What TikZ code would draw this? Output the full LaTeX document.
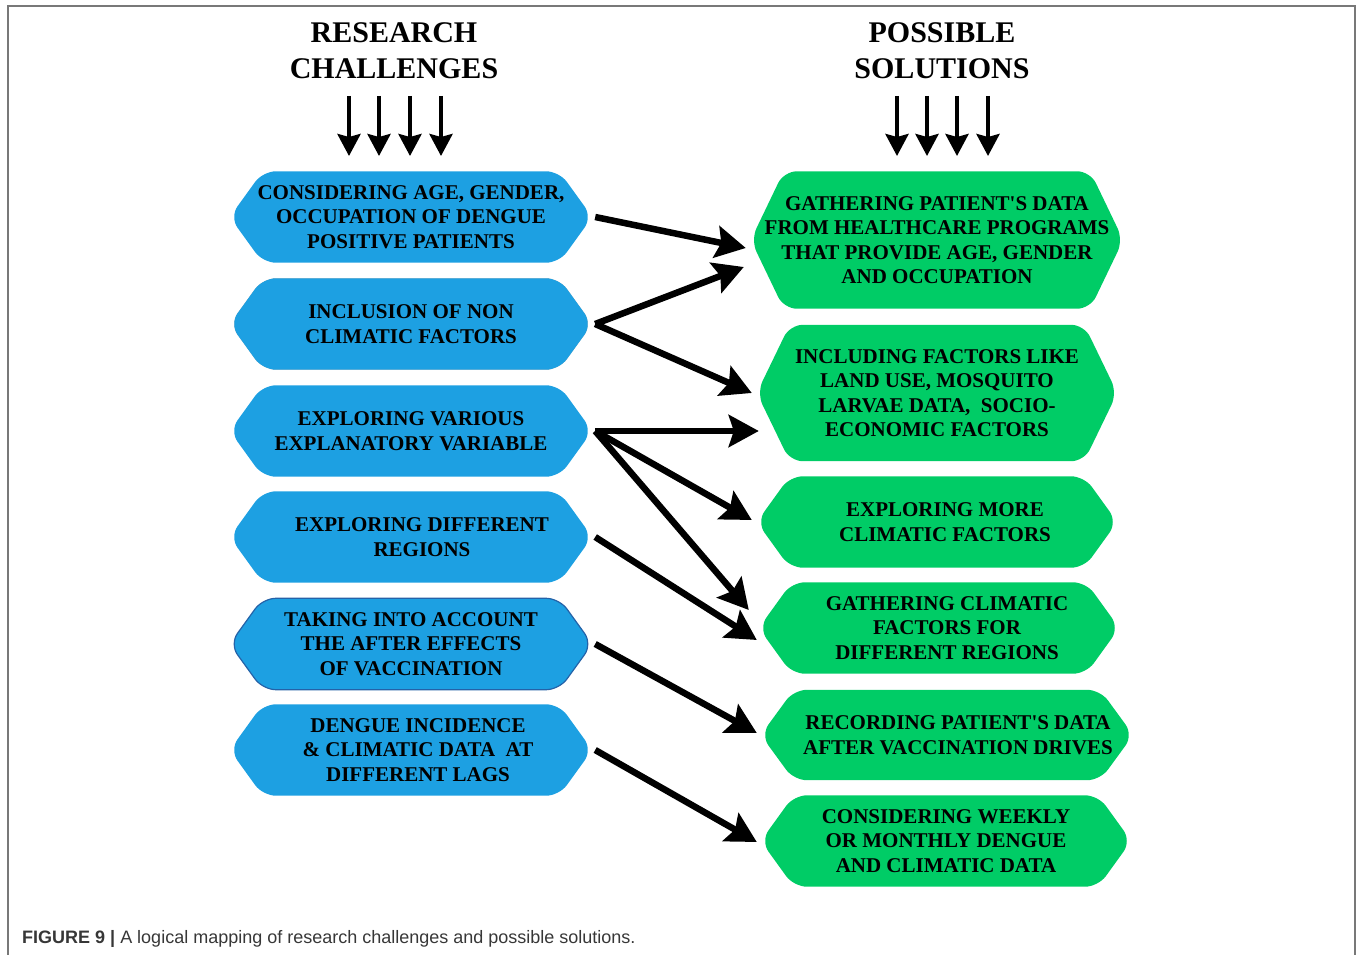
\documentclass[tikz,border=0pt]{standalone}
\usepackage{fontspec}
\setmainfont{Liberation Serif}
\newfontfamily\capfont{Liberation Sans}
\usetikzlibrary{arrows.meta,backgrounds,calc}

\definecolor{chblue}{RGB}{29,160,226}
\definecolor{chblueedge}{RGB}{36,98,168}
\definecolor{solgreen}{RGB}{0,204,102}
\definecolor{framegray}{RGB}{120,120,120}
\definecolor{capgray}{RGB}{55,55,55}
\definecolor{shadowgray}{RGB}{170,170,170}

\tikzset{
  x=1pt, y=-1pt,
  boxtext/.style={inner sep=0pt, align=center,
    font=\fontsize{21}{24.5}\selectfont\bfseries},
  challenge/.style={boxtext, minimum width=362pt, minimum height=91pt},
  solution/.style={boxtext, minimum height=91pt},
  heading/.style={inner sep=0pt, align=center,
    font=\fontsize{30}{36}\selectfont\bfseries},
  headarrow/.style={line width=4pt, -{Stealth[length=22pt,width=23pt,inset=3pt]}},
  maparrow/.style={line width=6.5pt, -{Stealth[length=30pt,width=32pt,inset=5pt]}},
  hexblue/.style={fill=chblue, rounded corners=13pt},
  hexgreen/.style={fill=solgreen, rounded corners=13pt},
}

% hexagonal outline around a named node
\newcommand\hexoutline[1]{%
  (#1.west) -- ($(#1.north west)+(33,0)$) -- ($(#1.north east)+(-33,0)$)
  -- (#1.east) -- ($(#1.south east)+(-33,0)$) -- ($(#1.south west)+(33,0)$) -- cycle}

\begin{document}
\begin{tikzpicture}
\useasboundingbox (0,0) rectangle (1357,955);

% open frame
\draw[framegray, line width=1.6pt] (8,955) -- (8,6) -- (1355,6) -- (1355,955);

% headings
\node[heading] (rc) at (394,51) {RESEARCH\\CHALLENGES};
\node[heading] (ps) at (942,51) {POSSIBLE\\SOLUTIONS};

% heading arrows
\foreach \x [count=\i] in {349,379,410,441} {
  \coordinate (la\i) at (\x,96);
  \coordinate (lb\i) at (\x,156);
  \draw[headarrow] (la\i) -- (lb\i);
}
\foreach \x [count=\i] in {897,927,957,988} {
  \coordinate (ra\i) at (\x,96);
  \coordinate (rb\i) at (\x,156);
  \draw[headarrow] (ra\i) -- (rb\i);
}

% research challenges
\node[challenge] (b1) at (411,217) {CONSIDERING AGE, GENDER,\\OCCUPATION OF DENGUE\\POSITIVE PATIENTS};
\node[challenge] (b2) at (411,324) {INCLUSION OF NON\\CLIMATIC FACTORS};
\node[challenge] (b3) at (411,431) {EXPLORING VARIOUS\\EXPLANATORY VARIABLE};
\node[challenge] (b4) at (411,537) {\hspace*{22pt}EXPLORING DIFFERENT\\\hspace*{22pt}REGIONS};
\node[challenge] (b5) at (411,644) {TAKING INTO ACCOUNT\\THE AFTER EFFECTS\\OF VACCINATION};
\node[challenge] (b6) at (411,750) {\hspace*{14pt}DENGUE INCIDENCE\\\hspace*{14pt}\& CLIMATIC DATA\ \ AT\\\hspace*{14pt}DIFFERENT LAGS};

% possible solutions
\node[solution, minimum width=372pt, minimum height=137pt] (g1) at (937,240)
  {GATHERING PATIENT\textquotesingle S DATA\\FROM HEALTHCARE PROGRAMS\\THAT PROVIDE AGE, GENDER\\AND OCCUPATION};
\node[solution, minimum width=360pt, minimum height=136pt] (g2) at (937,393)
  {INCLUDING FACTORS LIKE\\LAND USE, MOSQUITO\\LARVAE DATA,\ \ SOCIO-\\ECONOMIC FACTORS};
\node[solution, minimum width=360pt] (g3) at (937,522)
  {\hspace*{16pt}EXPLORING MORE\\\hspace*{16pt}CLIMATIC FACTORS};
\node[solution, minimum width=360pt] (g4) at (939,628)
  {\hspace*{16pt}GATHERING CLIMATIC\\\hspace*{16pt}FACTORS FOR\\\hspace*{16pt}DIFFERENT REGIONS};
\node[solution, minimum width=372pt, minimum height=90pt] (g5) at (947,735)
  {\hspace*{22pt}RECORDING PATIENT\textquotesingle S DATA\\\hspace*{22pt}AFTER VACCINATION DRIVES};
\node[solution, minimum width=370pt] (g6) at (946,841)
  {CONSIDERING WEEKLY\\OR MONTHLY DENGUE\\AND CLIMATIC DATA};

% box backgrounds
\begin{scope}[on background layer]
  \fill[shadowgray, rounded corners=13pt, shift={(3,4)}] \hexoutline{b2};
  \foreach \n in {b1,b2,b3,b4,b6} \path[hexblue] \hexoutline{\n};
  \path[hexblue, draw=chblueedge, line width=1.2pt] \hexoutline{b5};
  \foreach \n in {g1,g2,g3,g4,g5,g6} \path[hexgreen] \hexoutline{\n};
\end{scope}

% mapping
\draw[maparrow] ($(b1.east)+(3,0)$) -- ($(g1.west)+(-5,8)$);
\draw[maparrow] ($(b2.east)+(3,0)$) -- ($(g1.west)+(-7,27)$);
\draw[maparrow] ($(b2.east)+(3,0)$) -- ($(g2.west)+(-5,0)$);
\draw[maparrow] ($(b3.east)+(3,0)$) -- ($(g2.west)+(2,38)$);
\draw[maparrow] ($(b3.east)+(3,0)$) -- ($(g3.west)+(-5,-2)$);
\draw[maparrow] ($(b3.east)+(3,0)$) -- ($(g4.west)+(-10,-18)$);
\draw[maparrow] ($(b4.east)+(3,0)$) -- ($(g4.west)+(-2,12)$);
\draw[maparrow] ($(b5.east)+(3,0)$) -- ($(g5.west)+(-4,-2)$);
\draw[maparrow] ($(b6.east)+(3,0)$) -- ($(g6.west)+(-4,1)$);

% caption
\node[anchor=base west, inner sep=0pt, text=capgray,
      font=\capfont\fontsize{18}{21}\selectfont] (cap) at (22,943)
  {\textbf{FIGURE 9 |} A logical mapping of research challenges and possible solutions.};
\end{tikzpicture}
\end{document}
